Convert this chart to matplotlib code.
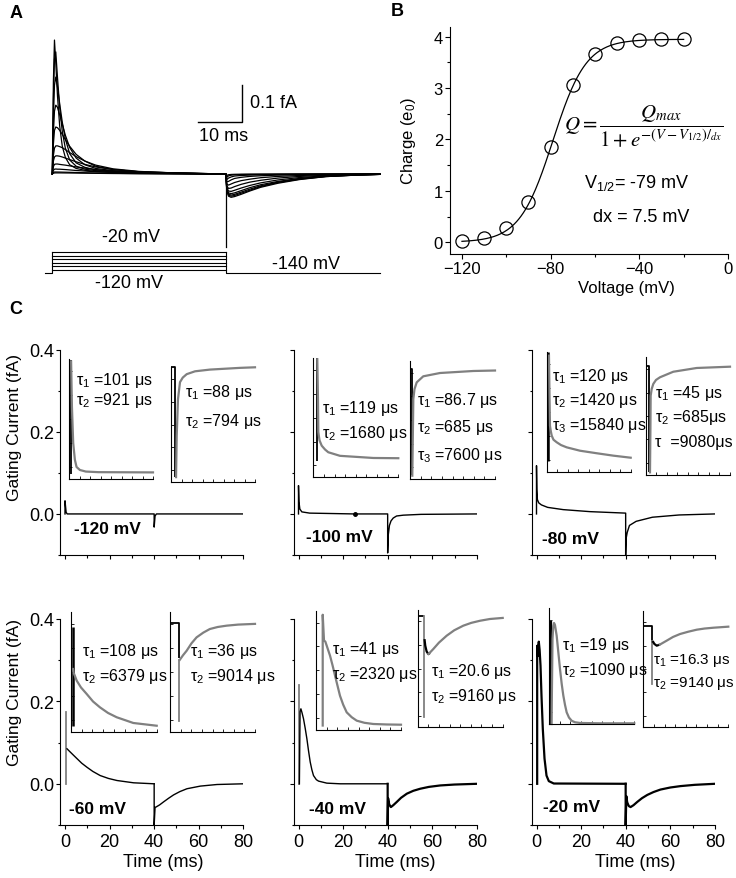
import matplotlib
matplotlib.use('Agg')
import matplotlib.pyplot as plt
import numpy as np

W, H = 736, 879
plt.rcParams['font.family'] = ['Liberation Sans', 'DejaVu Sans']
plt.rcParams['mathtext.fontset'] = 'custom'
plt.rcParams['mathtext.rm'] = 'Liberation Sans'
plt.rcParams['mathtext.it'] = 'Liberation Sans:italic'
plt.rcParams['mathtext.bf'] = 'Liberation Sans:bold'
plt.rcParams['axes.linewidth'] = 0.8

# ---------------- DATA ----------------
# Panel A: voltage protocol (mV)
P_HOLD = -140
P_STEPS = [-120, -100, -80, -60, -40, -20]
P_START, P_ON, P_OFF, P_END = -1.7, 0, 40, 75.5

# Panel A: ON gating currents (fA) on a common time grid (ms)
A_ON_T = [0, 0.25, 0.5, 0.8, 1.2, 1.7, 2.3, 3, 4, 5.5, 7.5, 10, 14, 20, 28, 40]
A_ON_M20 = [0, 0.25, 0.362, 0.30, 0.21, 0.13, 0.075, 0.045, 0.025, 0.015, 0.010, 0.007, 0.0045, 0.003, 0.0015, 0]
A_ON_M30 = [0, 0.2, 0.31, 0.33, 0.26, 0.18, 0.115, 0.07, 0.038, 0.021, 0.013, 0.009, 0.006, 0.0035, 0.0018, 0]
A_ON_M40 = [0, 0.15, 0.24, 0.262, 0.235, 0.19, 0.14, 0.095, 0.055, 0.03, 0.018, 0.011, 0.007, 0.004, 0.002, 0]
A_ON_M50 = [0, 0.11, 0.17, 0.186, 0.18, 0.16, 0.135, 0.105, 0.072, 0.043, 0.025, 0.015, 0.009, 0.005, 0.0025, 0]
A_ON_M60 = [0, 0.08, 0.118, 0.127, 0.125, 0.118, 0.107, 0.093, 0.075, 0.053, 0.035, 0.021, 0.012, 0.006, 0.003, 0]
A_ON_M70 = [0, 0.05, 0.07, 0.076, 0.076, 0.074, 0.071, 0.066, 0.058, 0.047, 0.035, 0.024, 0.014, 0.007, 0.003, 0]
A_ON_M80 = [0, 0.035, 0.046, 0.049, 0.049, 0.048, 0.046, 0.043, 0.039, 0.033, 0.026, 0.019, 0.012, 0.006, 0.003, 0]
A_ON_M90 = [0, 0.02, 0.026, 0.027, 0.027, 0.026, 0.025, 0.024, 0.022, 0.019, 0.016, 0.012, 0.008, 0.004, 0.002, 0]
A_ON_M100 = [0, 0.01, 0.013, 0.0135, 0.013, 0.013, 0.0125, 0.012, 0.011, 0.0095, 0.008, 0.006, 0.004, 0.002, 0.001, 0]
A_ON_M110 = [0, 0.004, 0.0054, 0.0054, 0.0053, 0.0052, 0.005, 0.0048, 0.0045, 0.004, 0.0034, 0.0027, 0.0019, 0.0011, 0.0005, 0]
A_ON_M120 = [0, 0.002, 0.0028, 0.003, 0.003, 0.003, 0.0029, 0.0028, 0.0027, 0.0025, 0.0022, 0.0018, 0.0013, 0.0008, 0.0004, 0]

# Panel A: OFF gating currents (fA)
A_OFF_T = [40, 40.2, 40.6, 41.2, 42, 43.5, 45.5, 48, 52, 57, 63, 70, 75.5]
A_OFF_M20 = [0, -0.045, -0.060, -0.063, -0.061, -0.055, -0.046, -0.036, -0.025, -0.015, -0.007, -0.003, -0.001]
A_OFF_M30 = [0, -0.043, -0.057, -0.060, -0.058, -0.052, -0.044, -0.034, -0.023, -0.014, -0.007, -0.003, -0.001]
A_OFF_M40 = [0, -0.041, -0.054, -0.057, -0.055, -0.049, -0.041, -0.032, -0.022, -0.013, -0.0065, -0.0028, -0.001]
A_OFF_M50 = [0, -0.039, -0.051, -0.053, -0.051, -0.045, -0.037, -0.029, -0.020, -0.012, -0.006, -0.0025, -0.001]
A_OFF_M60 = [0, -0.036, -0.046, -0.047, -0.044, -0.038, -0.031, -0.024, -0.016, -0.0095, -0.005, -0.002, -0.0008]
A_OFF_M70 = [0, -0.032, -0.039, -0.038, -0.034, -0.028, -0.022, -0.017, -0.011, -0.0065, -0.0035, -0.0015, -0.0006]
A_OFF_M80 = [0, -0.027, -0.030, -0.027, -0.023, -0.018, -0.014, -0.010, -0.0065, -0.004, -0.002, -0.001, -0.0004]
A_OFF_M90 = [0, -0.021, -0.020, -0.016, -0.012, -0.009, -0.0065, -0.0048, -0.003, -0.0018, -0.001, -0.0005, 0]
A_OFF_M100 = [0, -0.015, -0.011, -0.008, -0.0055, -0.004, -0.003, -0.0022, -0.0014, -0.0008, -0.0004, -0.0002, 0]
A_OFF_M110 = [0, -0.009, -0.005, -0.0033, -0.0022, -0.0015, -0.0011, -0.0008, -0.0005, -0.0003, -0.0002, 0, 0]
A_OFF_M120 = [0, -0.004, -0.002, -0.0012, -0.0008, -0.0005, -0.0004, -0.0003, -0.0002, -0.0001, 0, 0, 0]
A_SPIKE_T = [40, 40]
A_SPIKE_I = [0, -0.197]
A_SCALE_T = 10     # ms
A_SCALE_I = 0.1    # fA

# Panel B: Q-V
B_V = [-120, -110, -100, -90, -80, -70, -60, -50, -40, -30, -20]
B_Q = [0.02, 0.08, 0.27, 0.78, 1.85, 3.07, 3.66, 3.87, 3.93, 3.95, 3.96]
V_HALF = -79.0
DX = 7.5
Q_MAX = 3.95

# Panel C main traces (time ms, current fA)
C_M120_T = [0, 0, 0.5, 1.0, 40, 40, 40.4, 41, 80]
C_M120_I = [0, 0.032, 0.004, 0.0, 0.0, -0.032, -0.005, 0.0, 0.0]

C_M100_T = [0, 0, 0.2, 0.6, 1.5, 5, 15, 25, 40, 40, 40.3, 40.8, 41.5, 42.5, 44, 47, 55, 80]
C_M100_I = [0, 0.069, 0.03, 0.012, 0.005, 0.002, 0.001, 0.0, 0.0, -0.095, -0.05, -0.028, -0.017, -0.01, -0.005, -0.003, -0.001, 0.0]
C_M100_DOT = (25.3, 0.0)

C_M80_T = [0, 0, 0.15, 0.4, 1, 2.2, 5, 12, 24, 40, 40, 40.2, 40.7, 41.7, 44.7, 52, 64, 80]
C_M80_I = [0, 0.1175, 0.06, 0.035, 0.027, 0.022, 0.016, 0.0105, 0.0056, 0.002, -0.1, -0.06, -0.045, -0.028, -0.018, -0.008, -0.0025, 0.0]

C_M60_SPIKE_T = [0.45, 0.45]
C_M60_SPIKE_I = [0, 0.174]
C_M60_ON_T = [0.9, 2, 3.5, 5.4, 7.5, 9.9, 12.5, 15.8, 19.5, 23.3, 30.8, 40]
C_M60_ON_I = [0.085, 0.079, 0.071, 0.061, 0.050, 0.040, 0.030, 0.020, 0.013, 0.008, 0.0024, 0.0]
C_M60_OFF_T = [40, 40, 40.4, 40.8, 42.5, 44.2, 46.5, 48.7, 51.5, 54.7, 60.7, 68.2, 80]
C_M60_OFF_I = [0, -0.1, -0.057, -0.0565, -0.051, -0.044, -0.035, -0.027, -0.019, -0.012, -0.0056, -0.0017, 0]

C_M40_SPIKE_T = [0.3, 0.3]
C_M40_SPIKE_I = [0, 0.24]
C_M40_ON_T = [0.4, 0.7, 1.08, 1.6, 2.24, 3.0, 3.77, 4.5, 5.25, 6.0, 6.73, 8.0, 9.0, 12.7, 18.7, 40]
C_M40_ON_I = [0.0, 0.175, 0.182, 0.172, 0.158, 0.135, 0.109, 0.08, 0.053, 0.034, 0.02, 0.01, 0.0065, 0.0016, 0.0, 0.0]
C_M40_OFF_T = [40, 40, 40.2, 40.7, 41.45, 42.5, 44.1, 46, 48.6, 51.5, 54.6, 58.5, 63.6, 70, 80]
C_M40_OFF_I = [0, -0.1, -0.035, -0.05, -0.0565, -0.052, -0.044, -0.034, -0.024, -0.017, -0.012, -0.0075, -0.004, -0.0018, 0]

C_M20_ON_T = [0.3, 0.3, 0.55, 0.8, 1.03, 1.4, 1.8, 2.24, 2.83, 3.6, 4.49, 5.52, 7.76, 40]
C_M20_ON_I = [0, 0.335, 0.31, 0.335, 0.345, 0.325, 0.287, 0.214, 0.133, 0.061, 0.02, 0.0065, 0.0007, 0]
C_M20_OFF_T = [40, 40, 40.3, 40.7, 41.4, 42.2, 43.5, 45.2, 47.3, 49.7, 52.5, 55.6, 60, 64.6, 71, 80]
C_M20_OFF_I = [0, -0.1, -0.03, -0.045, -0.054, -0.0565, -0.052, -0.044, -0.035, -0.027, -0.02, -0.014, -0.009, -0.0056, -0.0025, 0]

# Panel C insets (normalized time 0-10, normalized amplitude 0-1)
# -120 mV
I120L_BX, I120L_BY = [0.2, 0.2], [0.04, 0.99]
I120L_GX = [0.25, 0.35, 0.5, 0.7, 0.9, 1.3, 2, 3.5, 10]
I120L_GY = [0.98, 0.6, 0.3, 0.16, 0.1, 0.075, 0.062, 0.057, 0.055]
I120R_BX, I120R_BY = [0, 0.48, 0.48], [1.0, 1.0, 0.04]
I120R_GX = [0.6, 0.68, 0.83, 1.07, 1.4, 1.87, 2.86, 4.64, 8.2, 10]
I120R_GY = [0.04, 0.40, 0.72, 0.87, 0.91, 0.94, 0.965, 0.98, 0.995, 1.0]
# -100 mV
I100L_BX, I100L_BY = [0.4, 0.4], [0.14, 1.0]
I100L_GX = [0.47, 0.55, 0.59, 0.73, 0.99, 1.38, 1.76, 3.14, 7.06, 10]
I100L_GY = [0.99, 0.66, 0.38, 0.31, 0.265, 0.233, 0.21, 0.18, 0.162, 0.16]
I100R_BX, I100R_BY = [0, 0.2, 0.2], [0.93, 0.93, 0.03]
I100R_GX = [0.27, 0.33, 0.39, 0.53, 0.79, 1.56, 3.53, 7.45, 10]
I100R_GY = [0.028, 0.34, 0.676, 0.76, 0.817, 0.868, 0.896, 0.913, 0.917]
# -80 mV
I80L_BX, I80L_BY = [0.19, 0.19], [0.09, 0.995]
I80L_GX = [0.27, 0.33, 0.39, 0.49, 0.6, 0.81, 1.19, 1.7, 2.38, 3.96, 5.95, 7.93, 10]
I80L_GY = [0.967, 0.65, 0.386, 0.34, 0.303, 0.27, 0.249, 0.226, 0.207, 0.179, 0.158, 0.138, 0.121]
I80R_BX, I80R_BY = [0, 0.42, 0.42], [0.93, 0.93, 0.02]
I80R_GX = [0.51, 0.56, 0.59, 0.71, 0.9, 1.22, 1.7, 3.27, 6.05, 10]
I80R_GY = [0.02, 0.39, 0.673, 0.73, 0.773, 0.807, 0.83, 0.877, 0.909, 0.92]
# -60 mV
I60L_BX, I60L_BY = [0.2, 0.2], [0.05, 0.875]
I60L_GX = [0.23, 0.29, 0.67, 1.17, 1.83, 2.57, 3.38, 4.32, 5.33, 7.27, 10]
I60L_GY = [0.525, 0.497, 0.427, 0.37, 0.316, 0.253, 0.204, 0.157, 0.121, 0.073, 0.05]
I60R_BX, I60R_BY = [0, 1.02, 1.02], [0.91, 0.91, 0.62]
I60R_SX, I60R_SY = [1.05, 1.05], [0.6, 0.09]
I60R_GX = [1.1, 1.5, 1.93, 2.5, 3.1, 3.9, 4.67, 5.6, 6.64, 8, 10]
I60R_GY = [0.6, 0.64, 0.678, 0.74, 0.79, 0.83, 0.86, 0.877, 0.888, 0.897, 0.903]
# -40 mV
I40L_GX = [0.79, 0.79, 0.94, 1.1, 1.26, 1.45, 1.65, 1.95, 2.24, 2.53, 2.82, 3.2, 3.61, 4.2, 4.79, 5.7, 6.74, 8.3, 10]
I40L_GY = [0.035, 0.966, 0.75, 0.74, 0.706, 0.665, 0.622, 0.54, 0.454, 0.37, 0.286, 0.21, 0.146, 0.105, 0.076, 0.058, 0.048, 0.044, 0.042]
I40R_BX, I40R_BY = [0, 0.78], [0.944, 0.944]
I40R_SX, I40R_SY = [0.78, 0.78], [0.944, 0.09]
I40R_MX = [0.8, 0.89, 1.05, 1.25, 1.45]
I40R_MY = [0.75, 0.694, 0.645, 0.623, 0.632]
I40R_GX = [1.25, 1.5, 1.84, 2.5, 3.41, 4.3, 5.36, 6.3, 7.33, 8.5, 10]
I40R_GY = [0.623, 0.64, 0.666, 0.72, 0.779, 0.825, 0.864, 0.888, 0.906, 0.921, 0.93]
# -20 mV
I20L_BX, I20L_BY = [0.23, 0.23], [0.0, 0.89]
I20L_GX = [0.3, 0.41, 0.5, 0.59, 0.7, 0.9, 1.09, 1.29, 1.49, 1.68, 1.88, 2.07, 2.34, 2.66, 3.05, 3.63, 5.98, 10]
I20L_GY = [0.0, 0.735, 0.847, 0.873, 0.856, 0.763, 0.622, 0.475, 0.346, 0.245, 0.164, 0.101, 0.056, 0.028, 0.015, 0.009, 0.006, 0.006]
I20R_BX, I20R_BY = [0, 1.06, 1.06], [0.871, 0.871, 0.72]
I20R_SX, I20R_SY = [1.08, 1.08], [0.74, 0.371]
I20R_MX = [1.1, 1.3, 1.58, 1.96]
I20R_MY = [0.74, 0.715, 0.70, 0.71]
I20R_GX = [1.96, 2.75, 3.5, 4.32, 5.3, 6.28, 7.2, 8.24, 10]
I20R_GY = [0.71, 0.743, 0.775, 0.80, 0.82, 0.837, 0.847, 0.854, 0.863]

# Text labels
C_LABELS = ['-120 mV', '-100 mV', '-80 mV', '-60 mV', '-40 mV', '-20 mV']
TAU_120L = ['101', '921']
TAU_120R = ['88', '794']
TAU_100L = ['119', '1680']
TAU_100R = ['86.7', '685', '7600']
TAU_80L = ['120', '1420', '15840']
TAU_80R = ['45', '685', '9080']
TAU_60L = ['108', '6379']
TAU_60R = ['36', '9014']
TAU_40L = ['41', '2320']
TAU_40R = ['20.6', '9160']
TAU_20L = ['19', '1090']
TAU_20R = ['16.3', '9140']

# ---------------- DRAWING ----------------
fig = plt.figure(figsize=(W / 100, H / 100), dpi=100)
GRAY = '#808080'
TAU_FS = 11.5


def px_axes(left, top, right, bottom):
    return fig.add_axes([left / W, 1 - bottom / H, (right - left) / W, (bottom - top) / H])


def ftext(x, y, s, **kw):
    return fig.text(x / W, 1 - y / H, s, **kw)


# ---- Panel A ----
A_PX_PER_MS = 4.34
A_X0 = 52.3
A_PX_PER_FA = 370.0
A_Y0 = 175.0
axA = px_axes(40, 30, 385, 285)
axA.set_xlim((40 - A_X0) / A_PX_PER_MS, (385 - A_X0) / A_PX_PER_MS)
axA.set_ylim((A_Y0 - 285) / A_PX_PER_FA, (A_Y0 - 30) / A_PX_PER_FA)
axA.axis('off')
a_on = [A_ON_M20, A_ON_M30, A_ON_M40, A_ON_M50, A_ON_M60, A_ON_M70,
        A_ON_M80, A_ON_M90, A_ON_M100, A_ON_M110, A_ON_M120]
a_off = [A_OFF_M20, A_OFF_M30, A_OFF_M40, A_OFF_M50, A_OFF_M60, A_OFF_M70,
         A_OFF_M80, A_OFF_M90, A_OFF_M100, A_OFF_M110, A_OFF_M120]
for on, off in zip(a_on, a_off):
    axA.plot(A_ON_T + A_OFF_T, on + off, color='black', lw=0.9)
axA.plot(A_SPIKE_T, A_SPIKE_I, color='black', lw=0.9)
# scale bar
sb_t0 = 33.6
sb_i0 = (A_Y0 - 123) / A_PX_PER_FA
axA.plot([sb_t0, sb_t0 + A_SCALE_T, sb_t0 + A_SCALE_T],
         [sb_i0, sb_i0, sb_i0 + A_SCALE_I], color='black', lw=1.0)

# protocol
axP = px_axes(40, 30, 385, 285)
axP.set_xlim(axA.get_xlim())
P_PX_PER_MV = 0.175
axP.set_ylim(-140 - (285 - 274) / P_PX_PER_MV, -20 + (253 - 30) / P_PX_PER_MV)
axP.axis('off')
for v in P_STEPS:
    axP.plot([P_ON, P_OFF], [v, v], color='black', lw=0.8)
axP.plot([P_START, P_ON, P_ON], [P_HOLD, P_HOLD, max(P_STEPS)], color='black', lw=0.8)
axP.plot([P_OFF, P_OFF, P_END], [max(P_STEPS), P_HOLD, P_HOLD], color='black', lw=0.8)

ftext(250, 104, '0.1 fA', fontsize=13, ha='left', va='center')
ftext(223.5, 137, '10 ms', fontsize=13, ha='center', va='center')
ftext(130.5, 238, '-20 mV', fontsize=13, ha='center', va='center')
ftext(129, 283, '-120 mV', fontsize=13, ha='center', va='center')
ftext(306, 265, '-140 mV', fontsize=13, ha='center', va='center')
ftext(10, 14, 'A', fontsize=13, fontweight='bold', ha='left', va='center')

# ---- Panel B ----
axB = px_axes(450, 28, 728, 255)
axB.set_xlim(-125.4, 0)
axB.set_ylim(-0.23, 4.19)
for s in ['top', 'right']:
    axB.spines[s].set_visible(False)
vfit = np.linspace(min(B_V), max(B_V), 200)
axB.plot(vfit, Q_MAX / (1 + np.exp(-(vfit - V_HALF) / DX)), color='black', lw=0.9)
axB.plot(B_V, B_Q, 'o', mfc='none', mec='black', ms=9.5, mew=0.9)
axB.set_xticks([-120, -80, -40, 0])
axB.set_xticks([-100, -60, -20], minor=True)
axB.set_yticks([0, 1, 2, 3, 4])
axB.set_yticks(np.arange(0.5, 4.0, 1.0), minor=True)
axB.tick_params(which='major', direction='out', length=3.5, width=0.8, labelsize=12, pad=1.5)
axB.tick_params(which='minor', direction='out', length=2, width=0.8)
axB.set_ylabel('Charge (e$_0$)', fontsize=12)
axB.yaxis.set_label_coords((418 - 450) / 278, 0.5)
ftext(626, 288, 'Voltage (mV)', fontsize=12, ha='center', va='center')
ftext(391, 12, 'B', fontsize=13, fontweight='bold', ha='left', va='center')
ftext(564, 126, r'$Q = \dfrac{Q_{max}}{1 + e^{-(V-V_{1/2})/_{dx}}}$',
      fontsize=15, ha='left', va='center', math_fontfamily='stix')
ftext(584, 183, r'$\mathregular{V_{1/2}}$= -79 mV', fontsize=13, ha='left', va='center')
ftext(593, 218, 'dx = 7.5 mV', fontsize=13, ha='left', va='center')

# ---- Panel C ----
ftext(9, 309, 'C', fontsize=13, fontweight='bold', ha='left', va='center')
C_X0 = [65.0, 298.5, 536.5]
C_PX_PER_MS = 2.229
ROW_TOP = [350.7, 620.0]
ROW_BOT = [556.0, 826.0]


def main_axes(row, col):
    x0 = C_X0[col]
    ax = px_axes(x0 - 2.2 * C_PX_PER_MS, ROW_TOP[row], x0 + 80 * C_PX_PER_MS, ROW_BOT[row])
    ax.set_facecolor('none')
    ax.set_xlim(-2.2, 80)
    ax.set_ylim(-0.1, 0.4)
    for s in ['top', 'right']:
        ax.spines[s].set_visible(False)
    ax.set_xticks([0, 20, 40, 60, 80])
    ax.set_xticks([10, 30, 50, 70], minor=True)
    ax.set_yticks([0, 0.2, 0.4])
    ax.set_yticks([-0.1, 0.1, 0.3], minor=True)
    ax.set_yticklabels(['0.0', '0.2', '0.4'])
    ax.tick_params(which='major', direction='out', length=3, width=0.8, labelsize=13)
    ax.tick_params(which='minor', direction='out', length=1.8, width=0.8)
    ax.tick_params(axis='x', pad=2.5)
    ax.tick_params(axis='y', pad=1)
    if col != 0:
        ax.tick_params(labelleft=False)
    if row == 0:
        ax.tick_params(labelbottom=False)
    return ax


def inset(left, top, right, bottom):
    ax = px_axes(left, top, right, bottom)
    ax.set_facecolor('none')
    ax.set_xlim(0, 10)
    ax.set_ylim(0, 1)
    for s in ['top', 'right']:
        ax.spines[s].set_visible(False)
    ax.set_xticks(np.arange(1.25, 10.01, 1.25))
    ax.set_yticks(np.linspace(0.1, 0.9, 5))
    ax.tick_params(direction='in', length=2, width=0.6, labelbottom=False, labelleft=False)
    return ax


def bl(ax, x, y, lw=1.3):
    ax.plot(x, y, color='black', lw=lw, clip_on=False, solid_capstyle='butt')


def gr(ax, x, y, lw=1.6):
    ax.plot(x, y, color=GRAY, lw=lw, clip_on=False)


def taus(x, y0, vals, dy, names=None, spaced=True, fs=TAU_FS):
    for k, v in enumerate(vals):
        sub = str(k + 1) if names is None else names[k]
        if sub:
            lab = r'$\mathregular{τ_{%s}}$ =%s' % (sub, v)
        else:
            lab = 'τ  =%s' % v
        lab += (' μs' if spaced else 'μs')
        ftext(x, y0 + k * dy, lab, fontsize=fs, ha='left', va='center')


# -120 mV
ax = main_axes(0, 0)
ax.plot(C_M120_T, C_M120_I, color='black', lw=1.0)
ftext(74, 530, C_LABELS[0], fontsize=12.5, fontweight='bold', ha='left', va='center')
a = inset(69, 360, 153, 480)
bl(a, I120L_BX, I120L_BY)
gr(a, I120L_GX, I120L_GY)
a = inset(171, 368.3, 255, 482.7)
bl(a, I120R_BX, I120R_BY)
gr(a, I120R_GX, I120R_GY)
taus(76, 380, TAU_120L, 20)
taus(185, 393, TAU_120R, 28.7)

# -100 mV
ax = main_axes(0, 1)
ax.plot(C_M100_T, C_M100_I, color='black', lw=1.0)
ax.plot([C_M100_DOT[0]], [C_M100_DOT[1]], 'o', color='black', ms=2.5)
ftext(306, 538, C_LABELS[1], fontsize=12.5, fontweight='bold', ha='left', va='center')
a = inset(313.3, 359, 398.3, 478.3)
bl(a, I100L_BX, I100L_BY)
gr(a, I100L_GX, I100L_GY)
a = inset(410, 361.7, 495, 480)
bl(a, I100R_BX, I100R_BY)
gr(a, I100R_GX, I100R_GY)
taus(321.7, 408.3, TAU_100L, 25)
taus(416.7, 400, TAU_100R, 28)

# -80 mV
ax = main_axes(0, 2)
ax.plot(C_M80_T, C_M80_I, color='black', lw=1.0)
ftext(541.7, 539.3, C_LABELS[2], fontsize=12.5, fontweight='bold', ha='left', va='center')
a = inset(546.7, 352.7, 630.7, 473.3)
bl(a, I80L_BX, I80L_BY, lw=1.8)
gr(a, I80L_GX, I80L_GY)
a = inset(645.7, 358.3, 730, 475.7)
bl(a, I80R_BX, I80R_BY)
gr(a, I80R_GX, I80R_GY)
taus(551.7, 376, TAU_80L, 25)
taus(655, 393.3, TAU_80R[:1], 24.7)
taus(655, 417.3, TAU_80R[1:2], 24.7, names=['2'], spaced=False)
taus(655, 442.7, TAU_80R[2:], 24.7, names=[''], spaced=False)

# -60 mV
ax = main_axes(1, 0)
ax.plot(C_M60_SPIKE_T, C_M60_SPIKE_I, color=GRAY, lw=1.3)
ax.plot(C_M60_ON_T, C_M60_ON_I, color='black', lw=1.0)
ax.plot(C_M60_OFF_T, C_M60_OFF_I, color='black', lw=1.0)
ftext(69.3, 810, C_LABELS[3], fontsize=12.5, fontweight='bold', ha='left', va='center')
a = inset(71, 613.3, 156.7, 732.7)
bl(a, I60L_BX, I60L_BY, lw=1.8)
gr(a, I60L_GX, I60L_GY)
a = inset(170.3, 613.3, 255, 732.7)
bl(a, I60R_BX, I60R_BY)
gr(a, I60R_SX, I60R_SY, lw=1.3)
gr(a, I60R_GX, I60R_GY)
taus(81.7, 651.7, TAU_60L, 25)
taus(190, 651.7, TAU_60R, 25)

# -40 mV
ax = main_axes(1, 1)
ax.plot(C_M40_SPIKE_T, C_M40_SPIKE_I, color=GRAY, lw=1.3)
ax.plot(C_M40_ON_T, C_M40_ON_I, color='black', lw=1.0)
ax.plot(C_M40_OFF_T, C_M40_OFF_I, color='black', lw=1.6)
ftext(309.3, 810, C_LABELS[4], fontsize=12.5, fontweight='bold', ha='left', va='center')
a = inset(316, 611.7, 401, 730.7)
gr(a, I40L_GX, I40L_GY)
a = inset(417.7, 610.7, 502.7, 728.3)
bl(a, I40R_BX, I40R_BY)
gr(a, I40R_SX, I40R_SY, lw=1.3)
bl(a, I40R_MX, I40R_MY, lw=1.6)
gr(a, I40R_GX, I40R_GY)
taus(331.7, 649.3, TAU_40L, 25)
taus(430.7, 671.7, TAU_40R, 25)

# -20 mV
ax = main_axes(1, 2)
ax.plot(C_M20_ON_T, C_M20_ON_I, color='black', lw=1.6)
ax.plot(C_M20_OFF_T, C_M20_OFF_I, color='black', lw=1.6)
ftext(543.3, 807.7, C_LABELS[5], fontsize=12.5, fontweight='bold', ha='left', va='center')
a = inset(549, 609.3, 634.3, 725)
bl(a, I20L_BX, I20L_BY, lw=1.6)
gr(a, I20L_GX, I20L_GY)
a = inset(643.3, 611.7, 728.3, 728.3)
bl(a, I20R_BX, I20R_BY)
gr(a, I20R_SX, I20R_SY, lw=1.3)
bl(a, I20R_MX, I20R_MY, lw=1.6)
gr(a, I20R_GX, I20R_GY)
taus(561.7, 646, TAU_20L, 24)
taus(653, 661, TAU_20R, 22.3, fs=11)

# axis labels for C
for yc in (428, 693):
    ftext(15, yc, 'Gating Current (fA)', fontsize=12.5, rotation=90, ha='center', va='center')
for xc in (163.3, 395, 635):
    ftext(xc, 862.7, 'Time (ms)', fontsize=13, ha='center', va='center')

fig.savefig('out.png', dpi=100)
